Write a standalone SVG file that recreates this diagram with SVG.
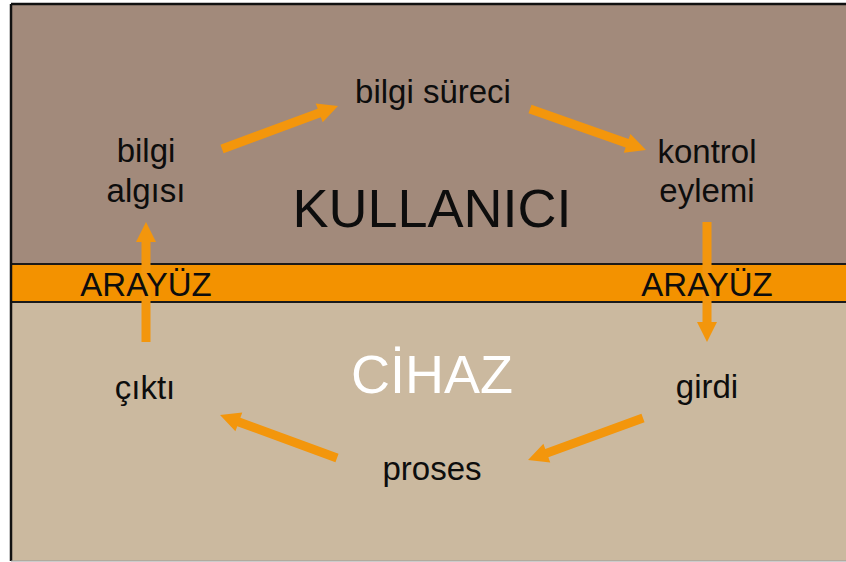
<svg xmlns="http://www.w3.org/2000/svg" width="846" height="562" viewBox="0 0 846 562">
  <style>
    .lbl { font-family: "Liberation Sans", Arial, sans-serif; font-size: 33px; fill: #0d0d0d; text-anchor: middle; }
    .title { font-family: "Liberation Sans", Arial, sans-serif; font-size: 54px; text-anchor: middle; }
    .band { font-family: "Liberation Sans", Arial, sans-serif; font-size: 33px; fill: #0d0d0d; text-anchor: middle; }
    .arrow { fill: #f3960c; }
  </style>
  <rect width="846" height="562" fill="#ffffff"/>
  <!-- user zone (top) and device zone (bottom) -->
  <rect x="11" y="5" width="840" height="260" fill="#a28a7b"/>
  <rect x="11" y="302" width="840" height="259" fill="#cbb99f"/>
  <!-- interface band -->
  <rect x="11" y="264" width="840" height="38" fill="#f39200"/>
  <line x1="11" y1="264" x2="846" y2="264" stroke="#1a1a1a" stroke-width="2"/>
  <line x1="11" y1="302" x2="846" y2="302" stroke="#1a1a1a" stroke-width="2"/>
  <!-- frame -->
  <line x1="11" y1="4" x2="846" y2="4" stroke="#111" stroke-width="2.5"/>
  <line x1="11" y1="4" x2="11" y2="561" stroke="#111" stroke-width="2.5"/>
  <line x1="11" y1="561" x2="846" y2="561" stroke="#9a9a9a" stroke-width="1"/>

  <g id="zone-labels">
    <text class="title" x="432" y="227" fill="#0d0d0d">KULLANICI</text>
    <text class="title" x="432" y="393" fill="#ffffff" font-size="51">CİHAZ</text>
  </g>

  <g id="connectors">
    <path class="arrow" transform="translate(222,149) rotate(-20.34)" d="M0,-4.5 H103.7 V-10 L123.7,0 L103.7,10 V4.5 H0 Z"/>
    <path class="arrow" transform="translate(530,109) rotate(19.47)" d="M0,-4.5 H103 V-10 L123,0 L103,10 V4.5 H0 Z"/>
    <path class="arrow" transform="translate(707,222) rotate(90)" d="M0,-4.5 H100 V-10 L120,0 L100,10 V4.5 H0 Z"/>
    <path class="arrow" transform="translate(643,418) rotate(159.94)" d="M0,-4.5 H102.4 V-10 L122.4,0 L102.4,10 V4.5 H0 Z"/>
    <path class="arrow" transform="translate(337,458) rotate(-159.82)" d="M0,-4.5 H104.6 V-10 L124.6,0 L104.6,10 V4.5 H0 Z"/>
    <path class="arrow" transform="translate(146,342) rotate(-90)" d="M0,-4.5 H100 V-10 L120,0 L100,10 V4.5 H0 Z"/>
  </g>

  <g id="interface-labels">
    <text class="band" x="146" y="296">ARAYÜZ</text>
    <text class="band" x="707" y="296">ARAYÜZ</text>
  </g>

  <g id="bilgi-algisi">
    <text class="lbl" x="146" y="162">bilgi</text>
    <text class="lbl" x="146" y="202">algısı</text>
  </g>
  <g id="bilgi-sureci">
    <text class="lbl" x="433" y="103">bilgi süreci</text>
  </g>
  <g id="kontrol-eylemi">
    <text class="lbl" x="707" y="163">kontrol</text>
    <text class="lbl" x="707" y="202">eylemi</text>
  </g>
  <g id="girdi">
    <text class="lbl" x="707" y="398">girdi</text>
  </g>
  <g id="proses">
    <text class="lbl" x="432" y="480">proses</text>
  </g>
  <g id="cikti">
    <text class="lbl" x="145" y="399">çıktı</text>
  </g>
</svg>
